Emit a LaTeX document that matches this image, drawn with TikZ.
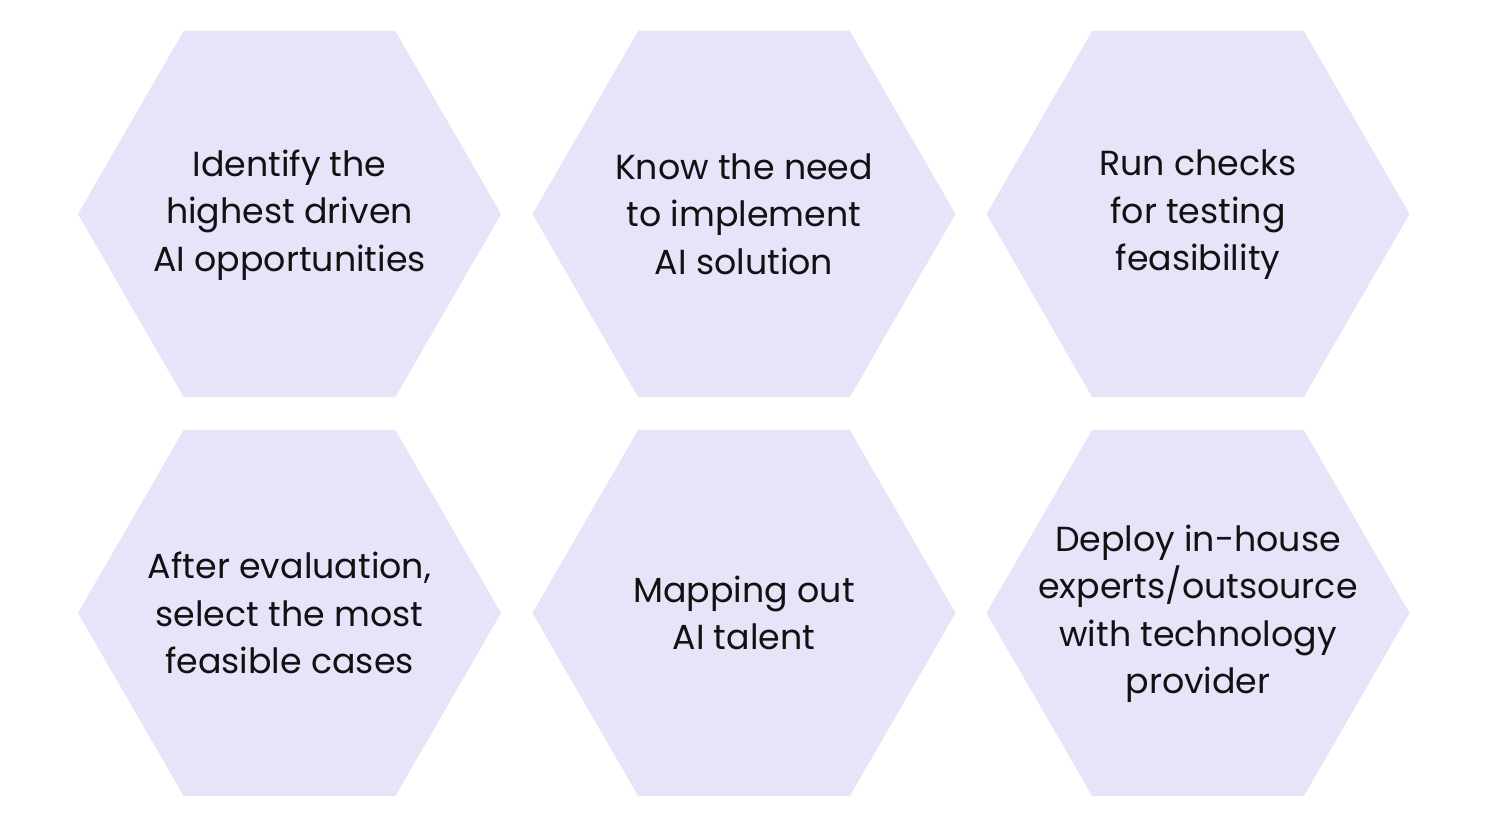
\documentclass[tikz,border=0pt]{standalone}
\usepackage{fontspec}
\setmainfont{Poppins}
\usetikzlibrary{shapes.geometric}
\definecolor{hexfill}{HTML}{E7E4FA}
\definecolor{txt}{HTML}{111111}
\tikzset{
  hexbox/.style={regular polygon, regular polygon sides=6,
    minimum size=211.5pt, inner sep=0pt, outer sep=0pt, fill=hexfill, draw=none},
  hextext/.style={align=center, text=txt, inner sep=0pt,
    font=\fontsize{17.4pt}{23.75pt}\selectfont}
}
\begin{document}
\begin{tikzpicture}[x=0.5pt,y=-0.5pt]
\useasboundingbox (0,0) rectangle (1496,826);
\fill[white] (0,0) rectangle (1496,826);
\node[hexbox] (h1) at (289.5,214) {};
\node[hexbox] (h2) at (744,214) {};
\node[hexbox] (h3) at (1198,214) {};
\node[hexbox] (h4) at (289.5,613) {};
\node[hexbox] (h5) at (744,613) {};
\node[hexbox] (h6) at (1198,613) {};
\node[hextext] (t1) at ([yshift=-0.5pt]h1.center) {Identify the\\highest driven\\AI opportunities};
\node[hextext] (t2) at (h2.center) {Know the need\\to implement\\AI solution};
\node[hextext] (t3) at ([yshift=-0.5pt]h3.center) {Run checks\\for testing\\feasibility};
\node[hextext] (t4) at (h4.center) {After evaluation,\\select the most\\feasible cases};
\node[hextext] (t5) at (h5.center) {Mapping out\\AI talent};
\node[hextext] (t6) at ([yshift=-0.3pt]h6.center) {Deploy in-house\\experts/outsource\\with technology\\provider};
\end{tikzpicture}
\end{document}
